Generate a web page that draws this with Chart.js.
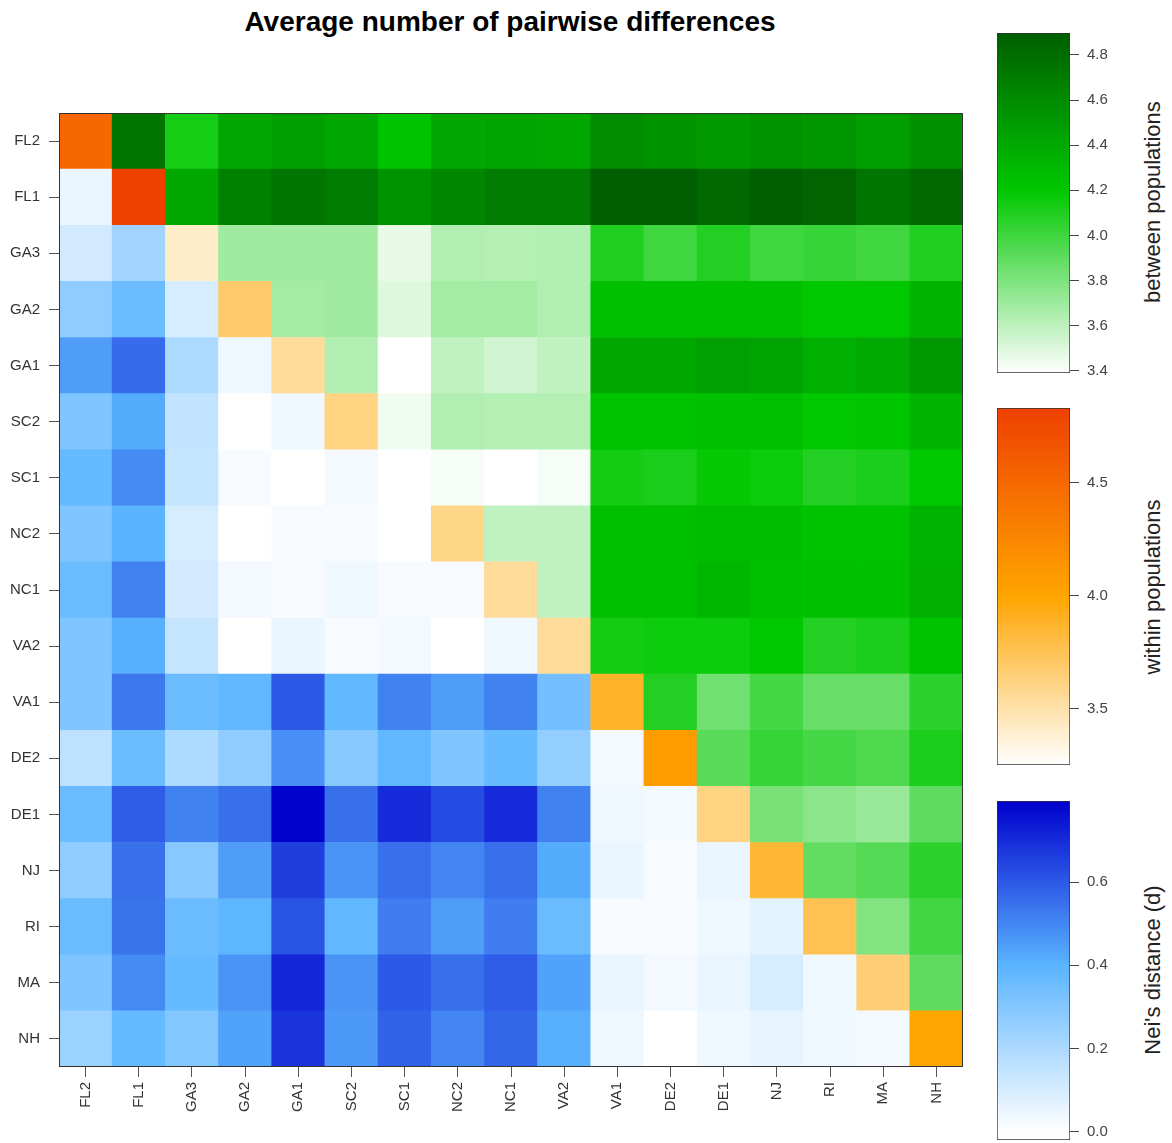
<!DOCTYPE html>
<html lang="en">
<head>
<meta charset="UTF-8">
<title>Average number of pairwise differences</title>
<script src="https://cdn.jsdelivr.net/npm/chart.js"></script>
<style>
  body { margin: 0; background: #fff; font-family: "Liberation Sans", Arial, sans-serif; }
  .wrap { position: relative; width: 1172px; height: 1143px; }
  canvas { position: absolute; }
  .title { position: absolute; left: 0; top: 8px; width: 1020px; text-align: center;
           font-weight: bold; font-size: 28px; line-height: 28px; color: #000; }
  .cbtitle { position: absolute; height: 26px; line-height: 26px; text-align: center;
             font-size: 22px; color: #222; transform: rotate(-90deg); white-space: nowrap; }
</style>
</head>
<body>
<div class="wrap">
  <div class="title">Average number of pairwise differences</div>
  <canvas id="heat" width="1022" height="1143" style="left:0;top:0"></canvas>
  <canvas id="cbBetween" width="140" height="374" style="left:990px;top:16px"></canvas>
  <canvas id="cbWithin" width="140" height="391" style="left:990px;top:391px"></canvas>
  <canvas id="cbNei" width="140" height="373" style="left:990px;top:784px"></canvas>
  <div class="cbtitle" style="left:1053px;top:190px;width:200px">between populations</div>
  <div class="cbtitle" style="left:1053px;top:574px;width:200px">within populations</div>
  <div class="cbtitle" style="left:1053px;top:957px;width:200px">Nei's distance (d)</div>
</div>

<script>
// populations, top row first / left column first
const pops = ['FL2','FL1','GA3','GA2','GA1','SC2','SC1','NC2','NC1','VA2','VA1','DE2','DE1','NJ','RI','MA','NH'];

// diagonal: within populations
const within = [4.50, 4.82, 3.41, 3.69, 3.55, 3.62, 3.25, 3.60, 3.55, 3.55, 3.88, 4.07, 3.62, 3.84, 3.76, 3.65, 4.00];

// upper triangle: between populations (row i, columns i+1 .. end)
const between = [
  [4.74, 4.13, 4.42, 4.47, 4.42, 4.23, 4.42, 4.44, 4.41, 4.60, 4.55, 4.50, 4.55, 4.53, 4.47, 4.57],
  [4.41, 4.66, 4.74, 4.69, 4.55, 4.63, 4.70, 4.69, 4.89, 4.89, 4.82, 4.89, 4.85, 4.74, 4.82],
  [3.69, 3.69, 3.69, 3.47, 3.64, 3.63, 3.64, 4.10, 4.00, 4.09, 4.00, 4.03, 4.00, 4.10],
  [3.68, 3.69, 3.50, 3.68, 3.68, 3.64, 4.25, 4.25, 4.25, 4.25, 4.20, 4.20, 4.33],
  [3.64, 3.39, 3.59, 3.54, 3.59, 4.41, 4.41, 4.46, 4.44, 4.36, 4.40, 4.52],
  [3.44, 3.64, 3.63, 3.63, 4.23, 4.23, 4.25, 4.26, 4.20, 4.21, 4.33],
  [3.42, 3.39, 3.42, 4.14, 4.11, 4.18, 4.16, 4.09, 4.11, 4.20],
  [3.59, 3.59, 4.25, 4.25, 4.27, 4.27, 4.23, 4.23, 4.34],
  [3.59, 4.25, 4.25, 4.31, 4.26, 4.25, 4.25, 4.36],
  [4.14, 4.16, 4.16, 4.20, 4.09, 4.11, 4.23],
  [4.09, 3.84, 3.98, 3.87, 3.87, 4.06],
  [3.92, 4.03, 3.98, 3.95, 4.11],
  [3.82, 3.76, 3.71, 3.90],
  [3.89, 3.93, 4.06],
  [3.79, 3.99],
  [3.90],
  []
];

// lower triangle: Nei's distance (row i, columns 0 .. i-1)
const nei = [
  [],
  [0.05],
  [0.11, 0.23],
  [0.27, 0.36, 0.10],
  [0.45, 0.56, 0.20, 0.04],
  [0.31, 0.42, 0.15, 0.00, 0.04],
  [0.37, 0.49, 0.14, 0.02, 0.00, 0.03],
  [0.31, 0.40, 0.10, 0.00, 0.02, 0.02, 0.00],
  [0.36, 0.51, 0.11, 0.03, 0.02, 0.04, 0.02, 0.02],
  [0.31, 0.41, 0.14, 0.00, 0.05, 0.02, 0.03, 0.00, 0.04],
  [0.31, 0.53, 0.36, 0.38, 0.60, 0.38, 0.51, 0.45, 0.51, 0.34],
  [0.16, 0.36, 0.20, 0.27, 0.48, 0.29, 0.38, 0.31, 0.37, 0.26, 0.03],
  [0.36, 0.59, 0.51, 0.55, 0.79, 0.55, 0.70, 0.63, 0.70, 0.51, 0.04, 0.03],
  [0.27, 0.55, 0.29, 0.45, 0.66, 0.47, 0.55, 0.50, 0.55, 0.42, 0.05, 0.02, 0.05],
  [0.36, 0.54, 0.36, 0.39, 0.61, 0.38, 0.52, 0.45, 0.52, 0.36, 0.02, 0.02, 0.04, 0.07],
  [0.31, 0.49, 0.37, 0.47, 0.71, 0.47, 0.60, 0.55, 0.59, 0.44, 0.05, 0.03, 0.05, 0.10, 0.04],
  [0.24, 0.37, 0.30, 0.44, 0.68, 0.46, 0.58, 0.50, 0.57, 0.41, 0.04, 0.00, 0.04, 0.06, 0.04, 0.03]
];

// colour bar ranges and ticks
const betweenRange = [3.391, 4.897];
const betweenTicks = [3.4, 3.6, 3.8, 4.0, 4.2, 4.4, 4.6, 4.8];
const withinRange = [3.25, 4.83];
const withinTicks = [3.5, 4.0, 4.5];
const neiRange = [-0.02, 0.795];
const neiTicks = [0.0, 0.2, 0.4, 0.6];

// colour ramps
const greenStops = [[3.391, [255,255,255]], [4.2, [0,200,0]], [4.897, [0,94,0]]];
const orangeStops = [[3.25, [255,255,255]], [4.0, [255,165,0]], [4.83, [238,64,0]]];
const blueStops = [[0, [255,255,255]], [0.4, [90,180,255]], [0.795, [0,0,205]]];

function ramp(stops, v) {
  if (v <= stops[0][0]) return 'rgb(' + stops[0][1].join(',') + ')';
  for (let k = 1; k < stops.length; k++) {
    if (v <= stops[k][0]) {
      const a = stops[k-1], b = stops[k];
      const t = (v - a[0]) / (b[0] - a[0]);
      const c = a[1].map((x, j) => Math.round(x + (b[1][j] - x) * t));
      return 'rgb(' + c.join(',') + ')';
    }
  }
  return 'rgb(' + stops[stops.length-1][1].join(',') + ')';
}

function cellColor(r, c) {
  if (c > r) return ramp(greenStops, between[r][c - r - 1]);
  if (c === r) return ramp(orangeStops, within[r]);
  return ramp(blueStops, nei[r][c]);
}

// one stacked dataset per row, bottom row first
const datasets = [];
for (let r = pops.length - 1; r >= 0; r--) {
  datasets.push({
    label: pops[r],
    data: pops.map(() => 1),
    backgroundColor: pops.map((p, c) => cellColor(r, c)),
    borderWidth: 0,
    barPercentage: 1,
    categoryPercentage: 1
  });
}

const boxPlugin = {
  id: 'box',
  afterDraw(chart) {
    const a = chart.chartArea, ctx = chart.ctx;
    ctx.save();
    ctx.strokeStyle = '#333';
    ctx.lineWidth = 1;
    ctx.strokeRect(Math.round(a.left) + 0.5, Math.round(a.top) + 0.5,
                   Math.round(a.right - a.left) - 1, Math.round(a.bottom - a.top) - 1);
    ctx.restore();
  }
};

const tickFont = { family: '"Liberation Sans", Arial, sans-serif', size: 15 };

new Chart(document.getElementById('heat'), {
  type: 'bar',
  data: { labels: pops, datasets: datasets },
  options: {
    responsive: false,
    animation: false,
    devicePixelRatio: 1,
    layout: { padding: { top: 113, right: 59, bottom: 0, left: 0 } },
    plugins: { legend: { display: false }, tooltip: { enabled: false }, title: { display: false } },
    scales: {
      x: {
        stacked: true,
        afterFit: (s) => { s.height = 76; },
        grid: { offset: false, drawOnChartArea: false, tickLength: 10, color: '#555' },
        border: { display: false },
        ticks: { minRotation: 90, maxRotation: 90, autoSkip: false, padding: 5, color: '#333', font: tickFont }
      },
      y: {
        stacked: true,
        min: 0,
        max: pops.length,
        afterFit: (s) => { s.width = 59; },
        afterBuildTicks: (axis) => { axis.ticks = pops.map((p, i) => ({ value: pops.length - 0.5 - i })); },
        grid: { drawOnChartArea: false, tickLength: 10, color: '#555' },
        border: { display: false },
        ticks: {
          autoSkip: false, padding: 9, color: '#333', font: tickFont,
          callback: (v) => pops[Math.round(pops.length - 0.5 - v)]
        }
      }
    }
  },
  plugins: [boxPlugin]
});

function colorBar(id, range, ticks, stops) {
  new Chart(document.getElementById(id), {
    type: 'bar',
    data: {
      labels: [''],
      datasets: [{
        data: [range],
        backgroundColor: (ctx) => {
          const chart = ctx.chart;
          if (!chart.chartArea) return '#fff';
          const y = chart.scales.y;
          const y0 = y.getPixelForValue(range[0]), y1 = y.getPixelForValue(range[1]);
          const g = chart.ctx.createLinearGradient(0, y0, 0, y1);
          const n = 60;
          for (let k = 0; k <= n; k++) {
            const v = range[0] + (range[1] - range[0]) * k / n;
            g.addColorStop(k / n, ramp(stops, v));
          }
          return g;
        },
        borderColor: '#333',
        borderWidth: 1,
        borderSkipped: false,
        barPercentage: 1,
        categoryPercentage: 1
      }]
    },
    options: {
      responsive: false,
      animation: false,
      devicePixelRatio: 1,
      layout: { padding: { top: 12, bottom: 12, left: 7, right: 0 } },
      plugins: { legend: { display: false }, tooltip: { enabled: false } },
      scales: {
        x: { display: false },
        y: {
          position: 'right',
          min: range[0],
          max: range[1],
          afterFit: (s) => { s.width = 60; },
          afterBuildTicks: (axis) => { axis.ticks = ticks.map(v => ({ value: v })); },
          grid: { drawOnChartArea: false, tickLength: 9, color: '#444' },
          border: { display: false },
          ticks: { autoSkip: false, padding: 8, color: '#444', font: tickFont,
                   callback: (v) => Number(v).toFixed(1) }
        }
      }
    }
  });
}

colorBar('cbBetween', betweenRange, betweenTicks, greenStops);
colorBar('cbWithin', withinRange, withinTicks, orangeStops);
colorBar('cbNei', neiRange, neiTicks, blueStops);
</script>
</body>
</html>
